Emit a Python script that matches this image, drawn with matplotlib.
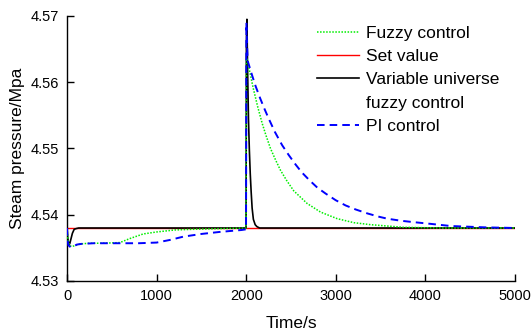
import matplotlib
matplotlib.use("Agg")
import matplotlib.pyplot as plt
from matplotlib.lines import Line2D

plt.rcParams['font.family'] = ['Liberation Sans', 'DejaVu Sans']

# Set value
t_set = [0, 5000]
p_set = [4.538, 4.538]

# Variable universe fuzzy control
t_vu = [0, 8, 20, 30, 45, 60, 80, 100, 130, 1998, 2002, 2008, 2015, 2025, 2035, 2045,
        2055, 2066, 2080, 2100, 2120, 2150, 5000]
p_vu = [4.538, 4.5365, 4.5355, 4.5356, 4.5364, 4.5372, 4.5378, 4.5379, 4.538, 4.538, 4.566,
        4.5695, 4.5623, 4.5545, 4.5498, 4.5462, 4.5435, 4.5410, 4.5393, 4.5385, 4.5382, 4.538, 4.538]

# Fuzzy control
t_fz = [0, 10, 25, 50, 80, 150, 250, 400, 590, 700, 850, 1000, 1200, 1400, 1700, 1998,
        2003, 2012, 2050, 2080, 2130, 2178, 2220, 2271, 2330, 2383, 2450, 2531, 2680, 2830,
        3017, 3203, 3389, 3760, 4200, 5000]
p_fz = [4.538, 4.5362, 4.5354, 4.5352, 4.5353, 4.5356, 4.5357, 4.5357, 4.5358, 4.5364,
        4.5371, 4.5374, 4.5377, 4.5378, 4.5379, 4.538,
        4.5636, 4.5634, 4.5609, 4.5590, 4.5562, 4.5538, 4.5520, 4.5500, 4.5482, 4.5467,
        4.5452, 4.5436, 4.5417, 4.5404, 4.5394, 4.5388, 4.5385, 4.5381, 4.5380, 4.538]

# PI control
t_pi = [0, 5, 15, 40, 70, 110, 160, 300, 590, 800, 1000, 1150, 1300, 1500, 1700, 1950,
        1998, 2002, 2008, 2017, 2062, 2105, 2155, 2200, 2248, 2320, 2401, 2475, 2550,
        2620, 2699, 2793, 2886, 2998, 3110, 3221, 3352, 3482, 3576, 3725, 3856, 4004,
        4284, 4657, 5000]
p_pi = [4.538, 4.5362, 4.5354, 4.5351, 4.5352, 4.5355, 4.5356, 4.5357, 4.5357, 4.5357,
        4.5358, 4.5362, 4.5367, 4.5371, 4.5374, 4.5377, 4.5378,
        4.5690, 4.5660, 4.5632, 4.5612, 4.5594, 4.5576, 4.5561, 4.5546, 4.5525, 4.5505,
        4.5490, 4.5476, 4.5464, 4.5453, 4.5441, 4.5432, 4.5422, 4.5414, 4.5408, 4.5402,
        4.5397, 4.5394, 4.5391, 4.5389, 4.5387, 4.5383, 4.5381, 4.538]

x_ticks = [0, 1000, 2000, 3000, 4000, 5000]
y_ticks = [4.53, 4.54, 4.55, 4.56, 4.57]

fig = plt.figure(figsize=(5.31, 3.36), dpi=100)
ax = fig.add_axes([0.1262, 0.1637, 0.8437, 0.7887])

ax.plot(t_set, p_set, color='#ff0000', lw=1.0, zorder=2)
ax.plot(t_vu, p_vu, color='black', lw=1.2, zorder=3)
ax.plot(t_fz, p_fz, color='#00ee00', lw=1.1, dashes=(1, 1), zorder=4)
ax.plot(t_pi, p_pi, color='#0000ff', lw=1.4, dashes=(3.9, 2.6), zorder=5)

ax.set_xlim(0, 5000)
ax.set_ylim(4.53, 4.57)
ax.set_xticks(x_ticks)
ax.set_yticks(y_ticks)
ax.set_yticklabels([f"{v:.2f}" for v in y_ticks])
ax.tick_params(direction='in', length=5, width=1, labelsize=10.5, pad=6)
for s in ['top', 'right']:
    ax.spines[s].set_visible(False)
for s in ['left', 'bottom']:
    ax.spines[s].set_linewidth(1.0)

ax.set_xlabel("Time/s", fontsize=12.5, labelpad=9)
ax.set_ylabel("Steam pressure/Mpa", fontsize=12.5, labelpad=4)

handles = [
    Line2D([], [], color='#00ee00', lw=1.1, dashes=(1, 1)),
    Line2D([], [], color='#ff0000', lw=1.0),
    Line2D([], [], color='black', lw=1.2),
    Line2D([], [], color='none'),
    Line2D([], [], color='#0000ff', lw=1.4, dashes=(3.9, 2.6)),
]
labels = ["Fuzzy control", "Set value", "Variable universe", "fuzzy control", "PI control"]
ax.legend(handles, labels, loc='upper left', bbox_to_anchor=(0.557, 0.962), frameon=False,
          fontsize=12.5, handlelength=2.45, handletextpad=0.4, labelspacing=0.46,
          borderpad=0, borderaxespad=0)

fig.savefig("out.png", dpi=100)
